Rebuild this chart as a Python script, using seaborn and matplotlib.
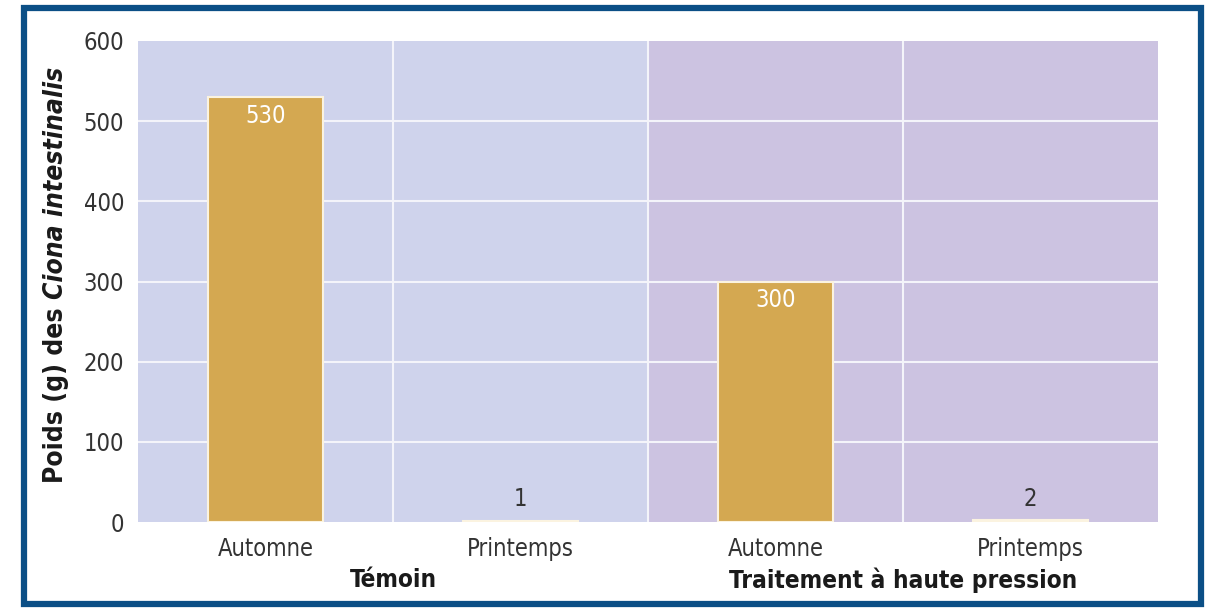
import matplotlib
matplotlib.use("Agg")
import matplotlib.pyplot as plt
from matplotlib.patches import Rectangle
import seaborn as sns
import pandas as pd

groups = ["Témoin", "Témoin", "Traitement à haute pression", "Traitement à haute pression"]
seasons = ["Automne", "Printemps", "Automne", "Printemps"]
values = [530, 1, 300, 2]
yticks = [0, 100, 200, 300, 400, 500, 600]

sns.set_theme(style="white")
plt.rcParams["font.family"] = ["DejaVu Sans"]
plt.rcParams["font.stretch"] = "condensed"

df = pd.DataFrame({"cat": [g + "|" + s for g, s in zip(groups, seasons)],
                   "value": values})

fig = plt.figure(figsize=(12.05, 6.12), dpi=100)
fig.patch.set_facecolor("white")
W, H = 1205, 612
ax = fig.add_axes([138 / W, 90 / H, (1158 - 138) / W, (522 - 41) / H])

ax.set_facecolor("none")
ax.axvspan(-0.5, 1.5, color="#cfd3ec", zorder=0, lw=0)
ax.axvspan(1.5, 3.5, color="#ccc3e1", zorder=0, lw=0)

for y in yticks[1:-1]:
    ax.axhline(y, color="#f4f4fa", lw=1.5, zorder=1)
for x in [0.5, 1.5, 2.5]:
    ax.axvline(x, color="#f4f4fa", lw=1.5, zorder=1)

sns.barplot(data=df, x="cat", y="value", order=list(df["cat"]), color="#d4a851",
            width=0.45, edgecolor="#fbf3e0", linewidth=1.5, saturation=1, ax=ax, zorder=2)

ax.set_xlim(-0.5, 3.5)
ax.set_ylim(0, 600)
ax.set_yticks(yticks)
ax.set_yticklabels([str(t) for t in yticks], fontsize=17, color="#333333")
ax.set_xticks(range(len(seasons)))
ax.set_xticklabels(seasons, fontsize=17, color="#333333")
ax.tick_params(axis="x", length=0, pad=11)
ax.tick_params(axis="y", length=0, pad=10)
ax.set_xlabel("")
ax.set_ylabel("")
for s in ax.spines.values():
    s.set_visible(False)

for i, v in enumerate(values):
    if v > 50:
        ax.annotate(str(v), (i, v), xytext=(0, -5), textcoords="offset points",
                    ha="center", va="top", fontsize=17, color="white", zorder=3)
    else:
        ax.annotate(str(v), (i, v), xytext=(0, 7), textcoords="offset points",
                    ha="center", va="bottom", fontsize=17, color="#333333", zorder=3)

group_names = ["Témoin", "Traitement à haute pression"]
for gi, g in enumerate(group_names):
    idx = [i for i, gg in enumerate(groups) if gg == g]
    xc = sum(idx) / len(idx)
    ax.annotate(g, (xc, 0), xycoords=("data", "axes fraction"), xytext=(0, -33),
                textcoords="offset points", ha="center", va="top", fontsize=17.5,
                fontweight="bold", color="#1a1a1a")

fig.canvas.draw()
r = fig.canvas.get_renderer()
YL = 19
t1 = fig.text(56 / W, 0.5, "Poids (g) des ", rotation=90, fontsize=YL, fontweight="bold",
              color="#1a1a1a", ha="center", va="bottom")
t2text = "Ciona intestinalis"
tmp = fig.text(0, 0, t2text, rotation=90, fontsize=YL, fontweight="bold", style="italic")
bb1 = t1.get_window_extent(r)
bb2 = tmp.get_window_extent(r)
tmp.remove()
total = bb1.height + bb2.height
center_y = 275
y_start = (H - center_y) - total / 2
t1.set_y(y_start / H)
fig.text(56 / W, (y_start + bb1.height) / H, t2text, rotation=90, fontsize=YL,
         fontweight="bold", style="italic", color="#1a1a1a", ha="center", va="bottom")

fig.patches.append(Rectangle((24 / W, 8 / H), (1201 - 24) / W, (604 - 8) / H,
                             transform=fig.transFigure, fill=False,
                             edgecolor="#0b4f86", lw=4.5, zorder=10))

fig.savefig("out.png", dpi=100)
